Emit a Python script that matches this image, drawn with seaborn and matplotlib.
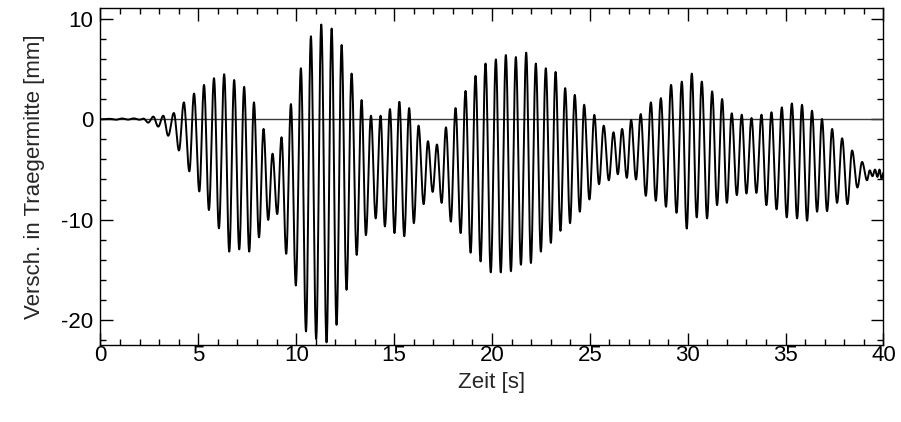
import numpy as np
import pandas as pd
import matplotlib
matplotlib.use("Agg")
import matplotlib.pyplot as plt
import seaborn as sns
from matplotlib.ticker import MultipleLocator

# Turning points (local maxima / minima) of the mid-span displacement record
turn_time = [
    0.00, 0.45, 0.80, 1.10, 1.40, 1.70, 2.00, 2.20, 2.44,
    2.70, 2.95, 3.21, 3.46, 3.75, 4.01, 4.26, 4.54, 4.78, 5.05,
    5.29, 5.54, 5.80, 6.05, 6.32, 6.58, 6.83, 7.09, 7.34, 7.60,
    7.84, 8.10, 8.33, 8.57, 8.79, 9.03, 9.25, 9.49, 9.73, 9.98,
    10.24, 10.50, 10.75, 11.02, 11.28, 11.55, 11.81, 12.06, 12.32, 12.57,
    12.83, 13.09, 13.34, 13.56, 13.82, 14.06, 14.31, 14.53, 14.79, 15.02, 15.27,
    15.52, 15.77, 16.01, 16.25, 16.51, 16.73, 16.97, 17.19, 17.43, 17.65,
    17.90, 18.14, 18.40, 18.65, 18.91, 19.16, 19.42, 19.67, 19.94, 20.20,
    20.45, 20.71, 20.97, 21.22, 21.48, 21.75, 21.99, 22.24, 22.50, 22.75,
    23.01, 23.25, 23.50, 23.74, 23.99, 24.23, 24.49, 24.71, 24.98, 25.23, 25.47,
    25.71, 25.97, 26.21, 26.43, 26.65, 26.89, 27.11, 27.36, 27.60, 27.86,
    28.12, 28.37, 28.63, 28.89, 29.15, 29.43, 29.70, 29.95, 30.21, 30.46,
    30.72, 30.99, 31.25, 31.50, 31.76, 32.00, 32.25, 32.51, 32.76, 33.00,
    33.26, 33.51, 33.77, 34.02, 34.28, 34.54, 34.81, 35.06, 35.32, 35.59,
    35.84, 36.10, 36.35, 36.61, 36.86, 37.12, 37.38, 37.63, 37.89, 38.16,
    38.40, 38.67, 38.91, 39.16, 39.30, 39.44, 39.57, 39.69, 39.80, 39.90, 40.00,
]
turn_disp = [
    0.00, 0.05, -0.04, 0.08, -0.03, 0.09, -0.04, 0.07, -0.33,
    0.27, -0.73, 0.36, -1.64, 0.63, -3.11, 1.69, -5.19, 2.57, -7.19,
    3.43, -9.05, 4.10, -10.87, 4.49, -13.19, 3.92, -12.97, 3.24, -13.19,
    1.69, -11.77, -0.96, -10.03, -3.43, -9.45, -1.79, -13.41, 1.52, -16.57,
    5.09, -21.15, 8.28, -21.91, 9.45, -22.24, 9.05, -20.49, 7.41, -17.00,
    4.56, -13.52, 1.92, -11.55, 0.36, -9.88, 0.36, -10.68, 1.02, -11.34, 1.74,
    -11.66, 1.12, -10.36, -0.63, -8.46, -2.18, -7.24, -2.51, -8.33, -0.80,
    -10.20, 1.12, -11.34, 2.83, -13.30, 4.33, -14.17, 5.56, -15.26, 5.97,
    -15.26, 6.41, -15.15, 6.21, -14.50, 6.65, -14.33, 5.56, -13.19, 5.09,
    -12.32, 4.72, -11.12, 3.11, -10.36, 2.44, -9.21, 1.45, -7.99, 0.44, -6.47,
    -0.63, -6.08, -1.29, -5.48, -0.96, -5.84, -0.07, -6.00, 0.52, -7.63,
    1.69, -8.12, 2.11, -8.72, 3.43, -9.32, 3.76, -10.90, 4.56, -9.78,
    3.76, -9.88, 2.78, -8.56, 2.02, -8.33, 0.60, -7.56, 0.46, -7.40,
    0.13, -7.34, 0.46, -8.56, 0.70, -8.98, 1.19, -9.78, 1.58, -9.88,
    1.45, -10.10, 0.86, -9.21, 0.03, -9.16, -0.96, -8.33, -1.89, -8.46,
    -3.11, -6.80, -4.25, -6.08, -5.09, -5.67, -5.01, -5.74, -5.01, -5.91, -5.34,
]

x_ticks = [0, 5, 10, 15, 20, 25, 30, 35, 40]
y_ticks = [-20, -10, 0, 10]


def smooth_trace(times, values, n=30):
    """Join consecutive turning points with half-cosine arcs."""
    ts, vs = [], []
    u = np.linspace(0.0, 1.0, n, endpoint=False)
    for (t0, t1), (v0, v1) in zip(zip(times[:-1], times[1:]), zip(values[:-1], values[1:])):
        ts.append(t0 + (t1 - t0) * u)
        vs.append(v0 + (v1 - v0) * (1 - np.cos(np.pi * u)) / 2)
    ts.append([times[-1]])
    vs.append([values[-1]])
    return np.concatenate(ts), np.concatenate(vs)


t, d = smooth_trace(turn_time, turn_disp)
df = pd.DataFrame({"Zeit": t, "Verschiebung": d})

sns.set_style("ticks")
plt.rcParams["font.family"] = ["Liberation Sans", "DejaVu Sans"]

fig = plt.figure(figsize=(9.01, 4.22), dpi=100)
ax = fig.add_axes([0.1115, 0.1825, 0.869, 0.7986])

ax.axhline(0, color="#3a3a3a", lw=1.0, zorder=1)
sns.lineplot(data=df, x="Zeit", y="Verschiebung", ax=ax, color="black",
             lw=1.4, estimator=None, sort=False, zorder=2)

ax.set_xlim(0, 40)
ax.set_ylim(-22.5, 11.1)
ax.set_xticks(x_ticks)
ax.set_xticklabels([str(v) for v in x_ticks])
ax.set_yticks(y_ticks)
ax.set_yticklabels([str(v) for v in y_ticks])
ax.xaxis.set_minor_locator(MultipleLocator(1))
ax.yaxis.set_minor_locator(MultipleLocator(2))

ax.tick_params(which="both", direction="in", top=True, right=True,
               width=1.0, color="black", labelsize=16, labelcolor="black")
ax.tick_params(which="major", length=9)
ax.tick_params(which="minor", length=4.5)
ax.tick_params(axis="x", which="major", pad=0)
ax.tick_params(axis="y", which="major", pad=5)
for s in ax.spines.values():
    s.set_linewidth(1.0)
    s.set_color("black")

ax.set_xlabel("Zeit [s]", fontsize=16, labelpad=4)
ax.set_ylabel("Versch. in Traegermitte [mm]", fontsize=16, labelpad=12)

fig.savefig("out.png", dpi=100)
